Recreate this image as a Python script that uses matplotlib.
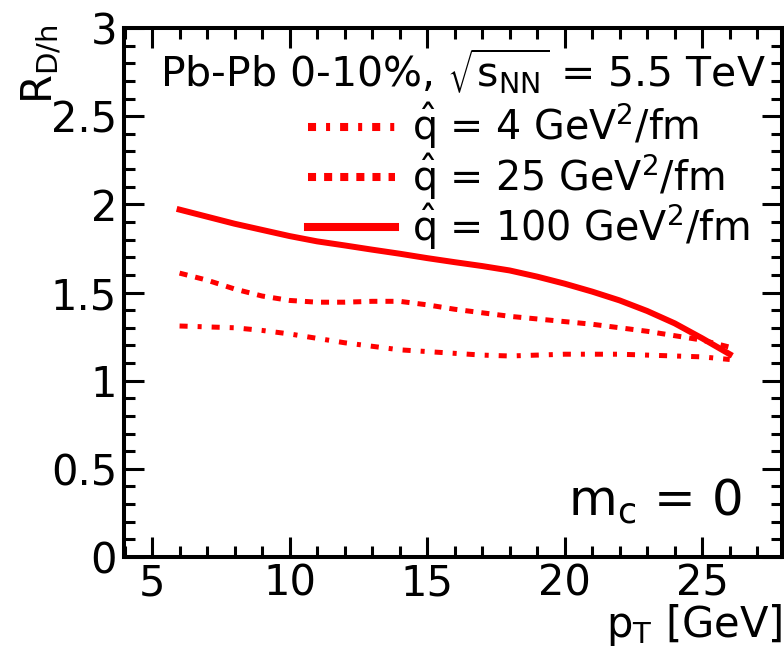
import matplotlib
matplotlib.use("Agg")
import matplotlib.pyplot as plt
from matplotlib.lines import Line2D
from matplotlib.ticker import MultipleLocator

plt.rcParams['font.family'] = ['DejaVu Sans']
plt.rcParams['mathtext.fontset'] = 'dejavusans'
plt.rcParams['lines.scale_dashes'] = False

# R_D/h versus p_T for three values of the transport coefficient q-hat
pt = [6, 7, 8, 9, 10, 11, 12, 13, 14, 15, 16, 17, 18, 19, 20, 21, 22, 23, 24, 25, 26]
r_q4 = [1.31, 1.305, 1.30, 1.285, 1.265, 1.24, 1.215, 1.195, 1.175, 1.165, 1.155,
        1.145, 1.14, 1.145, 1.15, 1.15, 1.15, 1.145, 1.14, 1.135, 1.12]
r_q25 = [1.61, 1.57, 1.52, 1.48, 1.455, 1.445, 1.445, 1.45, 1.45, 1.43, 1.405,
         1.385, 1.365, 1.35, 1.335, 1.32, 1.30, 1.28, 1.255, 1.23, 1.19]
r_q100 = [1.97, 1.93, 1.89, 1.855, 1.82, 1.79, 1.767, 1.743, 1.72, 1.695, 1.672,
          1.65, 1.625, 1.59, 1.55, 1.505, 1.455, 1.395, 1.325, 1.24, 1.15]

labels = [r'$\hat{\mathrm{q}}$ = 4 GeV$^{2}$/fm',
          r'$\hat{\mathrm{q}}$ = 25 GeV$^{2}$/fm',
          r'$\hat{\mathrm{q}}$ = 100 GeV$^{2}$/fm']

red = '#ff0000'
dashdot = (0, (5.8, 7.2, 2.9, 7.2))
dashed = (0, (5.8, 5.8))

fig = plt.figure(figsize=(7.84, 6.47), dpi=100)
ax = fig.add_axes([124 / 784, 1 - 557 / 647, 658 / 784, 529 / 647])

ax.plot(pt, r_q4, color=red, lw=3.6, linestyle=dashdot)
ax.plot(pt, r_q25, color=red, lw=3.6, linestyle=dashed)
ax.plot(pt, r_q100, color=red, lw=4.3, linestyle='-')

ax.set_xlim(3.98, 27.9)
ax.set_ylim(0, 3)

ax.xaxis.set_major_locator(MultipleLocator(5))
ax.xaxis.set_minor_locator(MultipleLocator(1))
ax.yaxis.set_major_locator(MultipleLocator(0.5))
ax.yaxis.set_minor_locator(MultipleLocator(0.1))
ax.yaxis.set_major_formatter(plt.FuncFormatter(lambda v, p: f'{v:g}'))

ax.tick_params(which='both', direction='in', top=True, right=True, width=2.2,
               labelsize=30)
ax.tick_params(which='major', length=14.4)
ax.tick_params(which='minor', length=8)
ax.tick_params(axis='x', pad=4)
ax.tick_params(axis='y', pad=5)
for s in ax.spines.values():
    s.set_linewidth(2.9)

ax.set_xlabel(r'$\mathrm{p}_{\mathrm{T}}$ [GeV]', fontsize=30)
ax.xaxis.set_label_coords(1.0, -0.085)
ax.xaxis.label.set_ha('right')
ax.xaxis.label.set_va('top')

ax.set_ylabel(r'$\mathrm{R}_{\mathrm{D/h}}$', fontsize=30)
ax.yaxis.set_label_coords(-0.1246, 1.006)
ax.yaxis.label.set_rotation_mode('default')
ax.yaxis.label.set_ha('center')
ax.yaxis.label.set_va('top')

ax.text(0.0547, 0.8866, r'Pb-Pb 0-10%, $\sqrt{\mathrm{s}_{\mathrm{NN}}}$ = 5.5 TeV',
        transform=ax.transAxes, fontsize=29.5, ha='left', va='baseline')

ax.text(0.939, 0.0794, r'$\mathrm{m}_{\mathrm{c}}$ = 0', transform=ax.transAxes,
        fontsize=36, ha='right', va='baseline')

handles = [Line2D([], [], color=red, lw=5.8, linestyle=dashdot),
           Line2D([], [], color=red, lw=5.8, linestyle=dashed),
           Line2D([], [], color=red, lw=5.8, linestyle='-')]
ax.legend(handles, labels, loc='upper left', bbox_to_anchor=(0.2796, 0.862),
          frameon=False, fontsize=28.5, borderpad=0, borderaxespad=0,
          handlelength=2.2, handletextpad=0.42, labelspacing=0.0)

fig.savefig('out.png', dpi=100)
